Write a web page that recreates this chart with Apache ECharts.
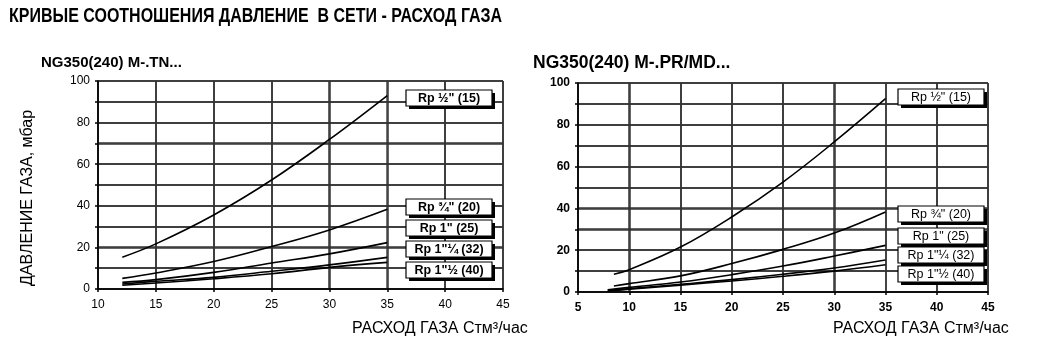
<!DOCTYPE html>
<html>
<head>
<meta charset="utf-8">
<script src="https://cdn.jsdelivr.net/npm/echarts@6/dist/echarts.min.js"></script>
<style>
body{margin:0;padding:0;}
#c{width:1045px;height:355px;}
</style>
</head>
<body>
<div id="c"></div>
<script>
// ---- data ----
var mainTitle = 'КРИВЫЕ СООТНОШЕНИЯ ДАВЛЕНИЕ  В СЕТИ - РАСХОД ГАЗА';
var leftTitle = 'NG350(240) M-.TN...';
var rightTitle = 'NG350(240) M-.PR/MD...';
var yName = 'ДАВЛЕНИЕ ГАЗА, мбар';
var xName = 'РАСХОД ГАЗА Стм³/час';
var seriesNames = ['Rp ½" (15)', 'Rp ¾" (20)', 'Rp 1" (25)', 'Rp 1"¼ (32)', 'Rp 1"½ (40)'];

var leftXTicks = [10, 15, 20, 25, 30, 35, 40, 45];
var rightXTicks = [5, 10, 15, 20, 25, 30, 35, 40, 45];
var yTicks = [0, 10, 20, 30, 40, 50, 60, 70, 80, 90, 100];

var leftX = [12.1, 15, 20, 25, 30, 35];
var leftR15 = [15.3, 21.7, 35.6, 52.4, 71.9, 93.0];
var leftR20 = [5.1, 7.7, 13.2, 20.4, 28.4, 38.3];
var leftR25 = [3.2, 4.5, 8.0, 12.5, 16.9, 22.3];
var leftR32 = [2.4, 3.7, 5.6, 8.5, 11.6, 15.2];
var leftR40 = [1.8, 2.9, 4.9, 7.3, 10.4, 12.8];

var rightXa = [8.5, 10, 15, 20, 25, 30, 35];
var rightXb = [7.9, 10, 15, 20, 25, 30, 35];
var rightR15 = [8.5, 10.7, 21.5, 35.9, 52.6, 71.8, 92.5];
var rightR20 = [2.9, 4.0, 7.7, 13.6, 20.4, 28.2, 38.3];
var rightR25 = [1.1, 2.2, 4.8, 8.3, 12.4, 17.2, 22.3];
var rightR32 = [0.8, 1.6, 3.7, 5.9, 8.5, 11.5, 15.3];
var rightR40 = [0.5, 1.3, 3.3, 5.3, 7.5, 10.0, 13.0];

// ---- build ----
function pairs(xs, ys){ return xs.map(function(x,i){ return [x, ys[i]]; }); }
var leftData = [pairs(leftX,leftR15), pairs(leftX,leftR20), pairs(leftX,leftR25), pairs(leftX,leftR32), pairs(leftX,leftR40)];
var rightData = [pairs(rightXa,rightR15), pairs(rightXa,rightR20), pairs(rightXb,rightR25), pairs(rightXb,rightR32), pairs(rightXb,rightR40)];

var FONT = 'Liberation Sans, Arial, sans-serif';
var GRID_COLOR = '#333';
var GRID_W = 1.5;
var series = [];
leftData.forEach(function(d){
  series.push({type:'line', xAxisIndex:0, yAxisIndex:0, data:d, smooth:0.4, symbol:'none', z:4,
    lineStyle:{color:'#000', width:1.6}});
});
rightData.forEach(function(d){
  series.push({type:'line', xAxisIndex:1, yAxisIndex:1, data:d, smooth:0.4, symbol:'none', z:4,
    lineStyle:{color:'#000', width:1.6}});
});

function xAx(gi, ticks, bold){
  return {type:'value', gridIndex:gi, min:ticks[0], max:ticks[ticks.length-1], interval:5, z:3,
    axisLine:{show:true, lineStyle:{color:'#000', width:1.5}},
    axisTick:{show:true, length:3, lineStyle:{color:'#000', width:1.5}},
    axisLabel:{color:'#000', fontSize:12, margin:10, fontWeight: bold?'bold':'normal'},
    splitLine:{show:true, lineStyle:{color:GRID_COLOR, width:GRID_W}}};
}
function yAx(gi, bold){
  return {type:'value', gridIndex:gi, min:yTicks[0], max:yTicks[yTicks.length-1], interval:10, z:3,
    axisLine:{show:true, lineStyle:{color:'#000', width:1.5}},
    axisTick:{show:true, length:3, lineStyle:{color:'#000', width:1.5}},
    axisLabel:{color:'#000', fontSize:12, margin:8, fontWeight: bold?'bold':'normal',
      formatter:function(v){ return v % 20 === 0 ? String(v) : ''; }},
    splitLine:{show:true, lineStyle:{color:GRID_COLOR, width:GRID_W}}};
}

function labelBoxes(x0, ys, bold){
  var els = [];
  ys.forEach(function(y, i){
    els.push({type:'rect', z:20, shape:{x:x0+3, y:y+3, width:86, height:16}, style:{fill:'#000'}});
    els.push({type:'rect', z:21, shape:{x:x0, y:y, width:86, height:16}, style:{fill:'#fff', stroke:'#000', lineWidth:1.2}});
    els.push({type:'text', z:22, x:x0+43, y:y+8.5, style:{text:seriesNames[i], fill:'#000', font:(bold?'bold ':'')+'12.5px '+FONT, textAlign:'center', textVerticalAlign:'middle'}});
  });
  return els;
}

var graphics = [
  {type:'text', z:20, x:9, y:16, scaleX:0.8, style:{text:mainTitle, fill:'#000', font:'bold 20px '+FONT, textVerticalAlign:'middle'}},
  {type:'text', z:20, x:41, y:63, style:{text:leftTitle, fill:'#000', font:'bold 15px '+FONT, textVerticalAlign:'middle'}},
  {type:'text', z:20, x:533, y:63, style:{text:rightTitle, fill:'#000', font:'bold 17.5px '+FONT, textVerticalAlign:'middle'}},
  {type:'text', z:20, x:28, y:198, rotation:Math.PI/2, style:{text:yName, fill:'#000', font:'16px '+FONT, textAlign:'center', textVerticalAlign:'middle'}},
  {type:'text', z:20, x:352, y:329, style:{text:xName, fill:'#000', font:'16px '+FONT, textVerticalAlign:'middle'}},
  {type:'text', z:20, x:833, y:329, style:{text:xName, fill:'#000', font:'16px '+FONT, textVerticalAlign:'middle'}}
].concat(labelBoxes(406, [90, 199, 220, 241, 262], true))
 .concat(labelBoxes(898, [89, 206, 228, 247, 266], false));

var chart = echarts.init(document.getElementById('c'));
chart.setOption({
  animation:false,
  grid:[
    {left:98, right:542, top:81, bottom:66},
    {left:578, right:57, top:83, bottom:63}
  ],
  xAxis:[xAx(0,leftXTicks,false), xAx(1,rightXTicks,true)],
  yAxis:[yAx(0,false), yAx(1,true)],
  series:series
});

// grid lines, also placed through the axes' own scales (same pixels as the split lines)
function gridLines(gi, xTicks){
  var els = [];
  var finder = {xAxisIndex:gi, yAxisIndex:gi};
  var y0 = yTicks[0], y1 = yTicks[yTicks.length-1];
  var x0 = xTicks[0], x1 = xTicks[xTicks.length-1];
  xTicks.forEach(function(x){
    var a = chart.convertToPixel(finder, [x, y0]);
    var b = chart.convertToPixel(finder, [x, y1]);
    var grey = (x === 35);
    var px = Math.round(a[0]);
    els.push({type:'line', z:1, silent:true, shape:{x1:px, y1:a[1], x2:px, y2:b[1]},
      style:{stroke: grey ? '#777' : GRID_COLOR, lineWidth: grey ? 2 : GRID_W}});
  });
  yTicks.forEach(function(y){
    var a = chart.convertToPixel(finder, [x0, y]);
    var b = chart.convertToPixel(finder, [x1, y]);
    var py = Math.round(a[1]);
    els.push({type:'line', z:1, silent:true, shape:{x1:a[0], y1:py, x2:b[0], y2:py},
      style:{stroke:GRID_COLOR, lineWidth:GRID_W}});
  });
  return els;
}
var lines = gridLines(0, leftXTicks).concat(gridLines(1, rightXTicks));
chart.setOption({graphic:{elements: lines.concat(graphics)}});
</script>
</body>
</html>
